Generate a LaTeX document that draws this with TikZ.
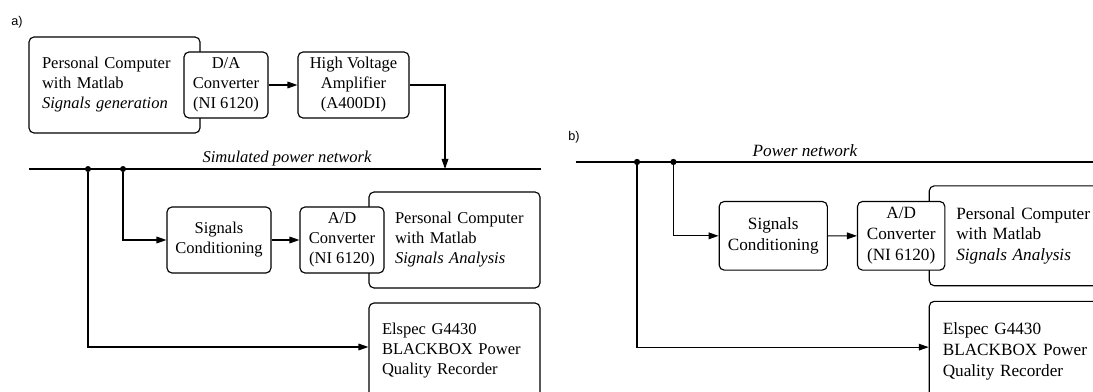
\documentclass[tikz,border=0pt]{standalone}
\usepackage{fontspec}
\setmainfont{Liberation Serif}
\newfontfamily\lblfont{Liberation Sans}
\usetikzlibrary{arrows.meta}
\newcommand\pcind{\hspace*{9.75pt}}
\begin{document}
\begin{tikzpicture}[x=0.75pt,y=-0.75pt,
  box/.style={draw, rounded corners=3.75pt, fill=white, line width=0.85pt, inner sep=0pt, align=center, font=\fontsize{12.4}{15}\selectfont},
  convbox/.style={box, minimum height=49.5pt},
  pcbox/.style={box, align=left, text width=108.75pt, inner xsep=9.75pt, minimum height=72pt},
  conn/.style={line width=0.85pt, -{Triangle[length=7.5pt,width=5pt]}},
  wire/.style={line width=0.85pt},
  junction/.style={circle, fill, inner sep=0pt, minimum size=4.5pt},
  netlabel/.style={font=\fontsize{12.4}{15}\selectfont\itshape, inner sep=0pt, anchor=base},
  panellabel/.style={font=\lblfont\fontsize{9.5}{11}\selectfont, inner sep=0pt}
]
\useasboundingbox (0,0) rectangle (1093,392);
\clip (0,0) rectangle (1093,392);
% ---------- panel a ----------
\node[panellabel] (lblA) at (17,22) {a)};
\node[pcbox] (PCa) at (114.5,85) {Personal Computer\\with Matlab\\\textit{Signals generation}};
\node[convbox, minimum width=63pt] (DAa) at (226,85) {D/A\\Converter\\(NI 6120)};
\node[convbox, minimum width=83.25pt] (HVAa) at (353.5,85) {High Voltage\\Amplifier\\(A400DI)};
\draw[conn] (DAa) -- (HVAa);
\coordinate (netAl) at (29,169);
\coordinate (netAr) at (541,169);
\coordinate (netAin) at (445,169);
\draw[wire] (netAl) -- (netAr);
\node[netlabel] (netlabA) at (287,163) {Simulated power network};
\draw[conn] (HVAa.east) -| (netAin);
\node[junction] (j1a) at (88,169) {};
\node[junction] (j2a) at (123,169) {};
\node[convbox, minimum width=78pt] (SCa) at (219,240) {Signals\\Conditioning};
\node[pcbox] (PCAa) at (454.5,240) {\pcind Personal Computer\\\pcind with Matlab\\\pcind\textit{Signals Analysis}};
\node[convbox, minimum width=63pt] (ADa) at (342,240) {A/D\\Converter\\(NI 6120)};
\node[pcbox] (ELa) at (454.5,351) {Elspec G4430\\BLACKBOX Power\\Quality Recorder};
\draw[conn] (j2a) |- (SCa.west);
\draw[conn] (SCa) -- (ADa);
\draw[conn] (j1a) |- ([yshift=3pt]ELa.west);
% ---------- panel b ----------
\node[panellabel] (lblB) at (574,137) {b)};
\begin{scope}[shift={(545.5,-13.8)}, scale=1.04, transform shape]
\coordinate (netBl) at (29,169);
\coordinate (netBr) at (560,169);
\draw[wire] (netBl) -- (netBr);
\node[netlabel] (netlabB) at (249.5,164.2) {Power network};
\node[junction] (j1b) at (88,169) {};
\node[junction] (j2b) at (123,169) {};
\node[convbox, minimum width=78pt] (SCb) at (219,240) {Signals\\Conditioning};
\node[pcbox] (PCAb) at (454.5,240) {\pcind Personal Computer\\\pcind with Matlab\\\pcind\textit{Signals Analysis}};
\node[convbox, minimum width=63pt] (ADb) at (342,240) {A/D\\Converter\\(NI 6120)};
\node[pcbox] (ELb) at (454.5,351) {Elspec G4430\\BLACKBOX Power\\Quality Recorder};
\draw[conn] (j2b) |- (SCb.west);
\draw[conn] (SCb) -- (ADb);
\draw[conn] (j1b) |- ([yshift=3pt]ELb.west);
\end{scope}
\end{tikzpicture}
\end{document}
